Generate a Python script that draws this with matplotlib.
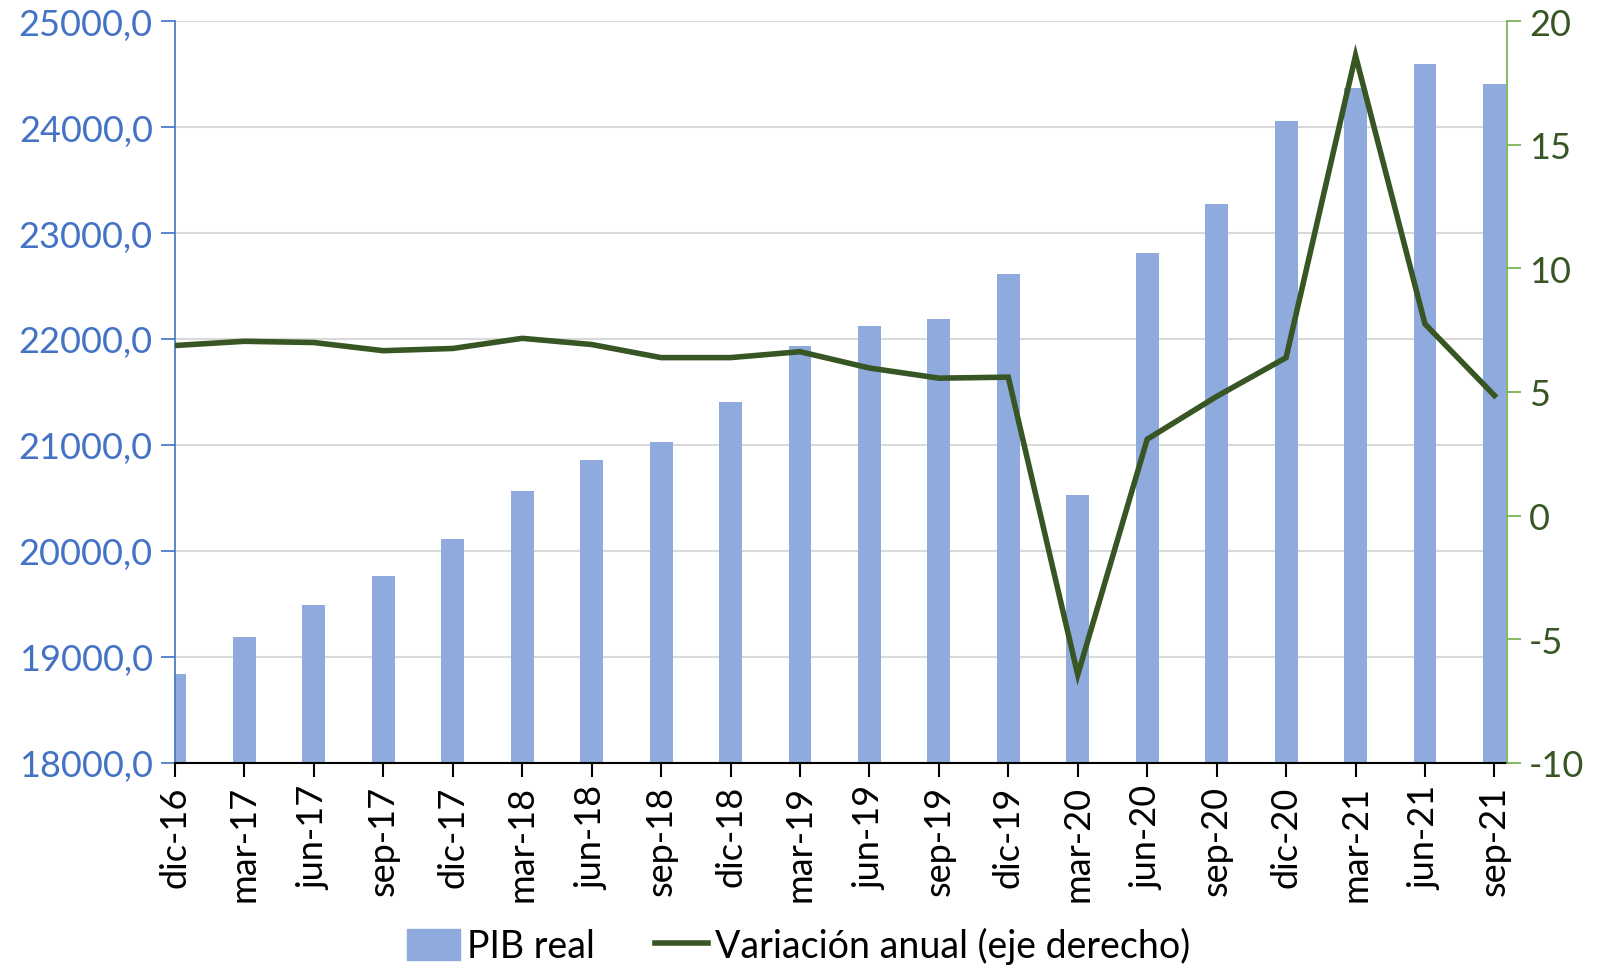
import matplotlib
matplotlib.use("Agg")
import matplotlib.pyplot as plt
import matplotlib.patches as patches
from matplotlib.lines import Line2D
from matplotlib.ticker import FuncFormatter
import numpy as np

plt.rcParams['font.family'] = ['Lato', 'DejaVu Sans']
plt.rcParams['axes.unicode_minus'] = False

# Data
quarters = ['dic-16', 'mar-17', 'jun-17', 'sep-17', 'dic-17', 'mar-18', 'jun-18',
            'sep-18', 'dic-18', 'mar-19', 'jun-19', 'sep-19', 'dic-19', 'mar-20',
            'jun-20', 'sep-20', 'dic-20', 'mar-21', 'jun-21', 'sep-21']
pib_real = [18840, 19185, 19490, 19760, 20115, 20567, 20856, 21030, 21404, 21933,
            22125, 22192, 22615, 20530, 22808, 23269, 24058, 24365, 24598, 24404]
variacion = [6.88, 7.05, 7.0, 6.67, 6.76, 7.17, 6.92, 6.39, 6.39, 6.63,
             5.97, 5.56, 5.6, -6.43, 3.09, 4.82, 6.39, 18.6, 7.75, 4.86]

bar_color = '#8FAADC'
line_color = '#375623'
left_color = '#4472C4'
right_color = '#70AD47'
fsize = 26

fig = plt.figure(figsize=(15.98, 9.70), dpi=100)
ax = fig.add_axes([0.1095, 0.2124, 0.8335, 0.7649])
ax2 = ax.twinx()

x = np.arange(len(quarters))

# Bars (left axis)
ax.bar(x, pib_real, width=0.33, color=bar_color, zorder=2)
ax.set_ylim(18000, 25000)
ax.set_yticks(np.arange(18000, 25001, 1000))
ax.yaxis.set_major_formatter(FuncFormatter(lambda v, p: f"{v:.1f}".replace('.', ',')))
ax.grid(axis='y', color='#D9D9D9', linewidth=1.5, zorder=0)
ax.set_axisbelow(True)
ax.set_xlim(0, 19.18)
ax.set_xticks(x)
ax.set_xticklabels(quarters, rotation=90)

# Line (right axis)
ax2.plot(x, variacion, color=line_color, linewidth=4.0, solid_joinstyle='miter')
ax2.set_ylim(-10, 20)
ax2.set_yticks(np.arange(-10, 21, 5))

# Spines and ticks
for a in (ax, ax2):
    a.spines['top'].set_visible(False)
ax.spines['right'].set_visible(False)
ax2.spines['left'].set_visible(False)
ax2.spines['bottom'].set_visible(False)
ax.spines['left'].set_color(left_color)
ax.spines['left'].set_linewidth(1.2)
ax2.spines['right'].set_color(right_color)
ax2.spines['right'].set_linewidth(1.2)
ax.spines['bottom'].set_color('black')
ax.spines['bottom'].set_linewidth(1.5)

ax.tick_params(axis='y', colors=left_color, labelsize=fsize, length=10, width=1.2, pad=6)
ax.tick_params(axis='x', colors='black', labelsize=fsize, length=10, width=1.5, pad=6)
ax2.tick_params(axis='y', colors=right_color, labelcolor=line_color, labelsize=fsize,
                length=10, width=1.2, pad=6)

# Legend
handles = [patches.Patch(color=bar_color, label='PIB real'),
           Line2D([0], [0], color=line_color, linewidth=4.0, label='Variación anual (eje derecho)')]
fig.legend(handles=handles, loc='lower center', bbox_to_anchor=(0.5, -0.03), ncol=2,
           frameon=False, fontsize=27, handlelength=1.4, handleheight=0.9,
           handletextpad=0.2, columnspacing=1.6)

fig.savefig('out.png', dpi=100)
